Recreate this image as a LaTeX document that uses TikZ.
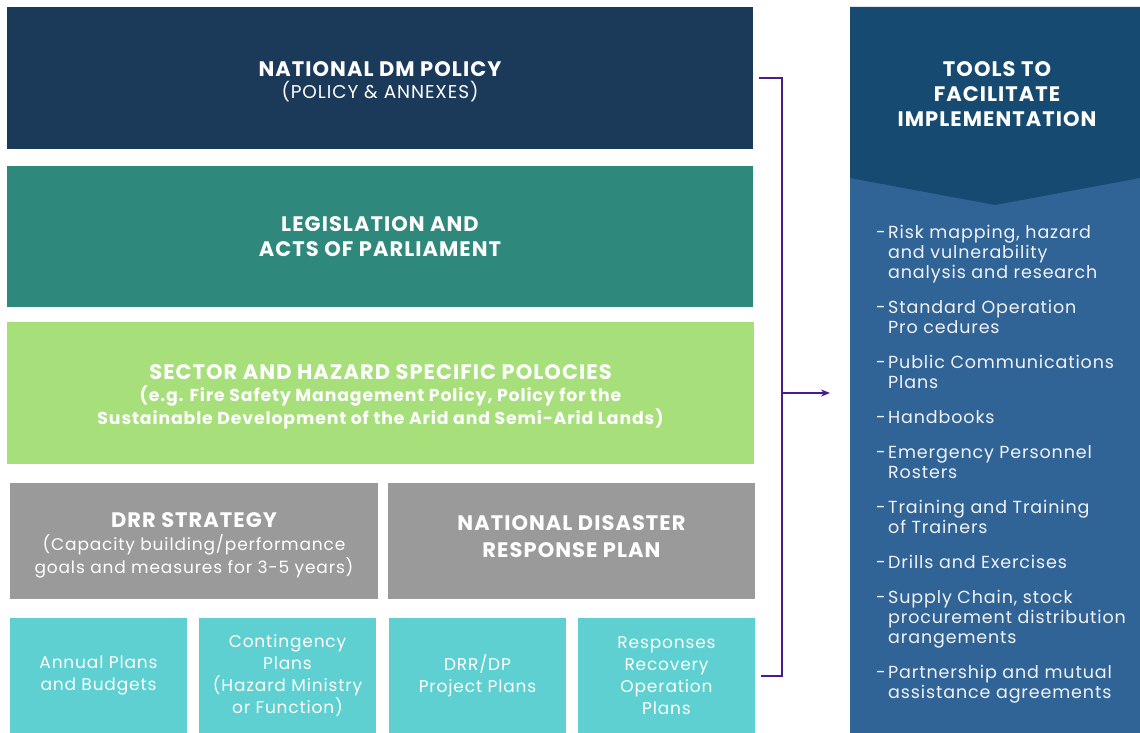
\documentclass[tikz,border=0pt]{standalone}
\usepackage{fontspec}
\setmainfont[LetterSpace=5]{Poppins}
\usetikzlibrary{arrows.meta,calc}
\definecolor{cnavy}{HTML}{1B3A5A}
\definecolor{cteal}{HTML}{2E887B}
\definecolor{cgreen}{HTML}{A7E07B}
\definecolor{cgrey}{HTML}{9A9A9A}
\definecolor{ccyan}{HTML}{5ED0D1}
\definecolor{cpurple}{HTML}{4A1C8A}
\definecolor{pdark}{HTML}{174A71}
\definecolor{plight}{HTML}{306497}
\definecolor{ltext}{HTML}{F2F2F2}
\tikzset{
  box/.style={rectangle, inner sep=0pt, draw=none, text=white, align=center},
  lbl/.style={inner sep=0pt, text=white, align=center},
  small/.style={box, fill=ccyan, minimum width=177pt, minimum height=115pt,
    font=\fontsize{17}{22}\selectfont},
  grey/.style={box, fill=cgrey, minimum width=368pt, minimum height=116pt},
  wide/.style={box, minimum width=746pt, minimum height=142pt},
  bracket/.style={draw=cpurple, line width=2pt},
  listtext/.style={inner sep=0pt, text=ltext, align=left, anchor=north west,
    font=\fontsize{17.5}{20}\selectfont},
}
\newcommand{\itm}{\makebox[12pt][l]{-}}
\newcommand{\cnt}{\hspace*{12pt}}
\newcommand{\bigb}{\bfseries\fontsize{21}{22}\selectfont}
\begin{document}
\begin{tikzpicture}[x=1pt,y=-1pt]
\useasboundingbox (0,0) rectangle (1140,733);
\fill[white] (0,0) rectangle (1140,733);

% left stack
\node[wide, fill=cnavy] (b1) at (380,78) {};
\node[lbl, font=\fontsize{18.5}{22}\selectfont] (b1t) at ($(b1.center)+(0,3.5)$)
  {{\bigb NATIONAL DM POLICY}\\(POLICY \& ANNEXES)};
\node[wide, fill=cteal, minimum height=141pt] (b2) at (380,236.5) {};
\node[lbl, font=\bfseries\fontsize{21}{25}\selectfont] (b2t) at (b2.center)
  {LEGISLATION AND\\ACTS OF PARLIAMENT};
\node[wide, fill=cgreen, minimum width=747pt] (b3) at (380.5,393) {};
\node[lbl, font=\bfseries\fontsize{17.3}{22.5}\selectfont] (b3t) at ($(b3.center)+(0,3.5)$)
  {{\bigb SECTOR AND HAZARD SPECIFIC POLOCIES}\\
   (e.g. Fire Safety Management Policy, Policy for the\\
   Sustainable Development of the Arid and Semi-Arid Lands)};
\node[grey] (b4) at (194,541) {};
\node[lbl, font=\fontsize{17}{23}\selectfont] (b4t) at ($(b4.center)+(0,4.5)$)
  {{\bigb DRR STRATEGY}\\(Capacity building/performance\\goals and measures for 3-5 years)};
\node[grey, minimum width=367pt] (b5) at (571.5,541) {};
\node[lbl, font=\bfseries\fontsize{21}{27}\selectfont] (b5t) at ($(b5.center)+(0,-4)$)
  {NATIONAL DISASTER\\RESPONSE PLAN};

\node[small] (c1) at (98.5,675.5) {Annual Plans\\and Budgets};
\node[small] (c2) at (287.5,675.5) {Contingency\\Plans\\(Hazard Ministry\\or Function)};
\node[small] (c3) at (477.5,675.5) {DRR/DP\\Project Plans};
\node[small] (c4) at (666.5,675.5) {Responses\\Recovery\\Operation\\Plans};

% bracket
\coordinate (bt0) at (759,78);
\coordinate (bt1) at (782,78);
\coordinate (bb1) at (782,676);
\coordinate (bb0) at (761,676);
\coordinate (bm) at (782,393);
\coordinate (tip) at (830,393);
\draw[bracket, line join=miter] (bt0) -- (bt1) -- (bb1) -- (bb0);
\draw[bracket, -{Stealth[length=9pt,width=7pt]}] (bm) -- (tip);

% right panel
\fill[plight] (850,7) rectangle (1140,733);
\fill[pdark] (850,7) -- (1140,7) -- (1140,178) -- (995,205) -- (850,178) -- cycle;
\node[lbl, font=\bfseries\fontsize{21}{25}\selectfont] (tools) at (997,94)
  {TOOLS TO\\FACILITATE\\IMPLEMENTATION};

\node[listtext] (list) at (876,225)
  {\itm Risk mapping, hazard\\\cnt and vulnerability\\\cnt analysis and research\\[15pt]
   \itm Standard Operation\\\cnt Pro cedures\\[15pt]
   \itm Public Communications\\\cnt Plans\\[15pt]
   \itm Handbooks\\[15pt]
   \itm Emergency Personnel\\\cnt Rosters\\[15pt]
   \itm Training and Training\\\cnt of Trainers\\[15pt]
   \itm Drills and Exercises\\[15pt]
   \itm Supply Chain, stock\\\cnt procurement distribution\\\cnt arangements\\[15pt]
   \itm Partnership and mutual\\\cnt assistance agreements};
\end{tikzpicture}
\end{document}
